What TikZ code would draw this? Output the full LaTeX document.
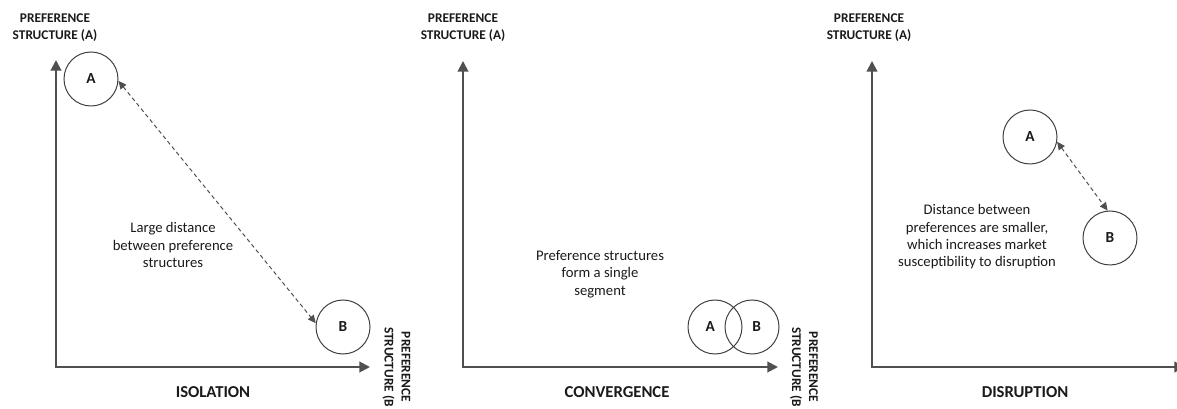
\documentclass[tikz,border=0pt]{standalone}
\usepackage{fontspec}
\setmainfont{Carlito}
\usetikzlibrary{arrows.meta}
\definecolor{axisgray}{HTML}{505050}
\definecolor{circgray}{HTML}{404040}
\definecolor{inkblack}{HTML}{1A1A1A}
\begin{document}
\begin{tikzpicture}[x=0.75pt,y=-0.75pt,
  axes/.style={draw=axisgray, line width=1.5pt, line join=miter,
    {Triangle[length=8pt,width=8pt]}-{Triangle[length=8pt,width=8pt]}},
  pref/.style={circle, draw=circgray, line width=0.75pt, minimum size=40.5pt,
    inner sep=0pt, text=inkblack, font=\bfseries\fontsize{11.5}{13}\selectfont},
  link/.style={draw=axisgray, line width=0.75pt, dash pattern=on 3pt off 2.25pt,
    {Triangle[length=6pt,width=5.5pt]}-{Triangle[length=6pt,width=5.5pt]}},
  axlabel/.style={align=center, inner sep=0pt, text=inkblack,
    font=\bfseries\fontsize{10}{12.75}\selectfont},
  paneltitle/.style={inner sep=0pt, text=inkblack, font=\bfseries\fontsize{12.5}{14}\selectfont},
  note/.style={align=center, inner sep=0pt, text=inkblack, font=\fontsize{11}{13}\selectfont}]
\useasboundingbox (0,0) rectangle (1177,409);

% ---------- Isolation ----------
\coordinate (y1) at (56,60);
\coordinate (o1) at (56,367);
\coordinate (x1) at (370,367);
\draw[axes] (y1) -- (o1) -- (x1);
\node[axlabel] (ya1) at (55,27.5) {PREFERENCE\\STRUCTURE (A)};
\node[axlabel, rotate=-90] (xa1) at (396.5,367) {PREFERENCE\\STRUCTURE (B};
\node[pref] (a1) at (91,79) {A};
\node[pref] (b1) at (343,327) {B};
\draw[link] (a1.-4) -- (b1.172);
\node[note] (n1) at (173,245) {Large distance\\between preference\\structures};
\node[paneltitle] (t1) at (213,392) {ISOLATION};

% ---------- Convergence ----------
\coordinate (y2) at (463,61);
\coordinate (o2) at (463,367);
\coordinate (x2) at (778,367);
\draw[axes] (y2) -- (o2) -- (x2);
\node[axlabel] (ya2) at (463,27.5) {PREFERENCE\\STRUCTURE (A)};
\node[axlabel, rotate=-90] (xa2) at (804,367) {PREFERENCE\\STRUCTURE (B};
\node[pref] (a2) at (715,327) {\hspace*{-7pt}A};
\node[pref] (b2) at (752,327) {\hspace*{7pt}B};
\node[note] (n2) at (600,274) {Preference structures\\form a single\\segment};
\node[paneltitle] (t2) at (617,392) {CONVERGENCE};

% ---------- Disruption ----------
\coordinate (y3) at (872,61);
\coordinate (o3) at (872,367);
\coordinate (x3) at (1185,367);
\draw[axes] (y3) -- (o3) -- (x3);
\node[axlabel] (ya3) at (869,27.5) {PREFERENCE\\STRUCTURE (A)};
\node[pref] (a3) at (1030,137) {A};
\node[pref] (b3) at (1110,238) {B};
\draw[link] (a3.-10) -- (b3.95);
\node[note] (n3) at (977,237) {Distance between\\preferences are smaller,\\which increases market\\susceptibility to disruption};
\node[paneltitle] (t3) at (1025,392) {DISRUPTION};
\end{tikzpicture}
\end{document}
